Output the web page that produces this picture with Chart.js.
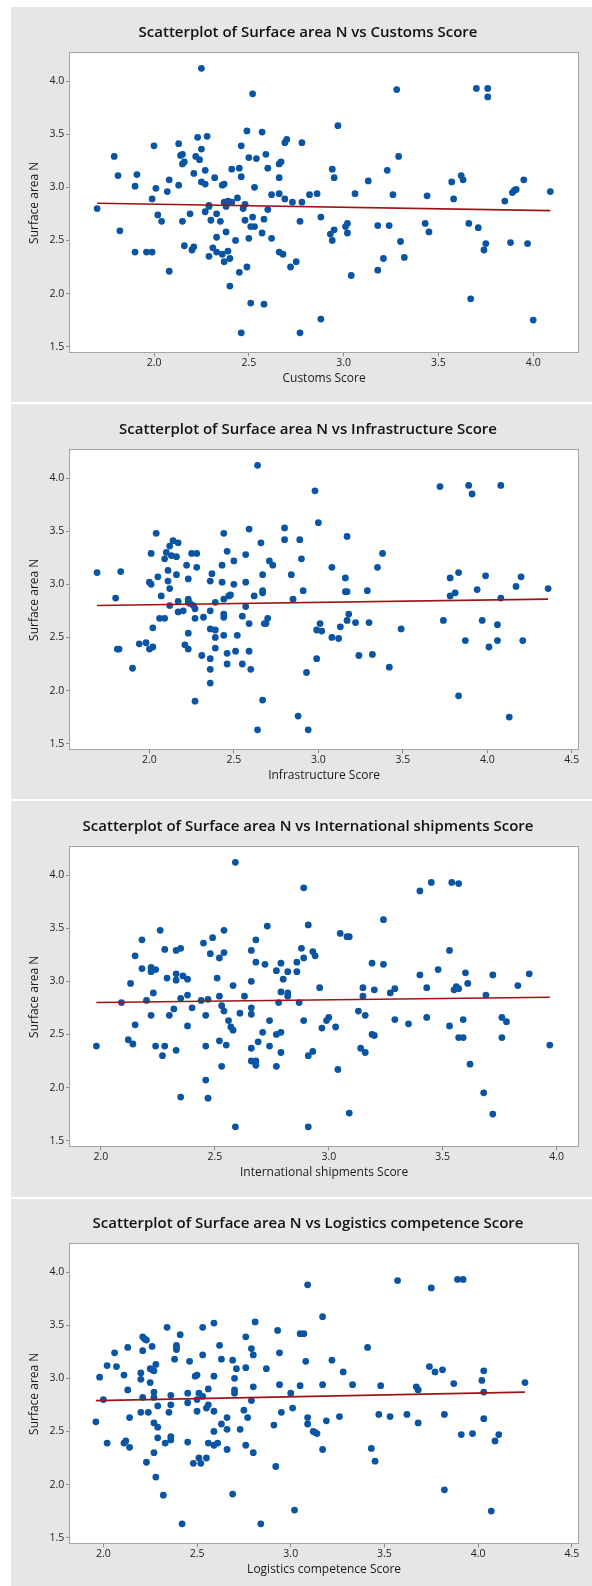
<!DOCTYPE html>
<html><head><meta charset="utf-8">
<script src="https://cdn.jsdelivr.net/npm/chart.js@4.4.1/dist/chart.umd.min.js"></script>
<style>
html,body{margin:0;padding:0;background:#fff;}
body{position:relative;width:592px;height:1586px;overflow:hidden;}
.panel{position:absolute;left:11px;width:581px;background:#e6e6e6;}
canvas{position:absolute;left:0;}
</style></head><body>
<div class="panel" style="top:7px;height:395px"></div>
<div class="panel" style="top:404px;height:395px"></div>
<div class="panel" style="top:801px;height:396px"></div>
<div class="panel" style="top:1199px;height:387px"></div>
<canvas id="c0" width="592" height="392" style="top:0px"></canvas>
<canvas id="c1" width="592" height="392" style="top:397px"></canvas>
<canvas id="c2" width="592" height="392" style="top:794px"></canvas>
<canvas id="c3" width="592" height="392" style="top:1191px"></canvas>
<script>
const yTitle = 'Surface area N';
const chartTitles = ['Scatterplot of Surface area N vs Customs Score','Scatterplot of Surface area N vs Infrastructure Score','Scatterplot of Surface area N vs International shipments Score','Scatterplot of Surface area N vs Logistics competence Score'];
const xTitles = ['Customs Score','Infrastructure Score','International shipments Score','Logistics competence Score'];
const yTicks = [1.5,2.0,2.5,3.0,3.5,4.0];
const yRange = [1.447,4.261];

const customsX = [1.70,1.79,1.81,1.82,1.90,1.91,1.90,1.96,1.99,1.99,2.00,2.01,2.02,2.04,2.07,2.08,2.08,2.13,2.13,2.14,2.15,2.15,2.16,2.15,2.16,2.19,2.20,2.21,2.21,2.22,2.23,2.24,2.25,2.25,2.25,2.27,2.27,2.27,2.28,2.29,2.29,2.29,2.30,2.31,2.32,2.33,2.33,2.33,2.35,2.36,2.36,2.37,2.37,2.37,2.38,2.38,2.39,2.39,2.40,2.40,2.41,2.41,2.43,2.44,2.45,2.45,2.46,2.46,2.46,2.47,2.48,2.48,2.49,2.49,2.50,2.50,2.51,2.51,2.52,2.52,2.53,2.53,2.54,2.57,2.57,2.58,2.58,2.59,2.60,2.60,2.62,2.62,2.66,2.67,2.66,2.66,2.66,2.68,2.69,2.70,2.69,2.72,2.73,2.75,2.77,2.77,2.78,2.78,2.82,2.86,2.88,2.88,2.94,2.95,2.97,3.06,3.13,2.93,2.94,2.95,3.01,3.02,3.02,3.04,3.18,3.18,3.21,3.23,3.24,3.26,3.28,3.29,3.30,3.32,3.43,3.44,3.45,3.57,3.58,3.62,3.63,3.66,3.67,3.70,3.71,3.74,3.75,3.76,3.76,3.85,3.88,3.89,3.90,3.91,3.95,3.97,4.00,4.09];
const customsY = [2.80,3.29,3.11,2.59,3.01,3.12,2.39,2.39,2.39,2.89,3.39,2.99,2.74,2.68,2.96,3.07,2.21,3.41,3.02,3.30,3.31,3.22,3.24,2.68,2.45,2.75,2.41,2.44,3.13,3.29,3.47,3.26,3.36,4.12,3.05,3.03,3.16,2.77,3.48,2.83,2.82,2.35,2.69,2.43,3.09,2.75,2.53,2.39,2.68,3.02,2.37,3.03,2.86,2.30,2.58,2.82,2.87,2.40,2.33,2.07,3.17,2.86,2.50,2.90,3.18,2.20,3.10,3.39,1.63,2.80,2.84,2.69,3.53,2.25,3.28,2.52,2.63,1.91,3.88,2.72,3.00,2.63,3.27,3.52,2.57,2.70,1.90,3.31,3.18,2.79,2.93,2.52,3.22,3.24,3.09,2.94,2.39,2.37,3.42,3.45,2.89,2.25,2.86,2.30,2.68,1.63,3.42,2.86,2.93,2.94,2.72,1.76,3.17,3.09,3.58,2.94,3.06,2.56,2.50,2.60,2.63,2.66,2.57,2.17,2.64,2.22,2.33,3.16,2.64,2.93,3.92,3.29,2.49,2.34,2.66,2.92,2.58,3.05,2.89,3.11,3.07,2.66,1.95,3.93,2.62,2.41,2.47,3.93,3.85,2.87,2.48,2.95,2.97,2.98,3.07,2.47,1.75,2.96];
const customsFitX = [1.70,4.09];
const customsFitY = [2.85,2.78];
const customsRange = [1.558,4.236];
const customsTicks = [2.0,2.5,3.0,3.5,4.0];

const infraX = [1.69,1.80,1.81,1.82,1.83,1.90,1.94,1.98,2.00,2.02,2.02,2.00,2.01,2.01,2.04,2.05,2.07,2.06,2.09,2.09,2.10,2.11,2.11,2.12,2.12,2.12,2.13,2.14,2.16,2.16,2.17,2.17,2.17,2.20,2.21,2.22,2.23,2.23,2.23,2.23,2.23,2.24,2.25,2.26,2.27,2.27,2.27,2.28,2.28,2.31,2.32,2.36,2.36,2.36,2.36,2.36,2.36,2.37,2.39,2.39,2.39,2.39,2.43,2.43,2.44,2.44,2.44,2.44,2.44,2.46,2.46,2.46,2.47,2.48,2.50,2.50,2.51,2.52,2.55,2.55,2.57,2.57,2.57,2.59,2.59,2.59,2.60,2.62,2.64,2.64,2.66,2.67,2.67,2.67,2.67,2.68,2.69,2.70,2.71,2.73,2.80,2.80,2.84,2.85,2.88,2.89,2.90,2.91,2.93,2.94,2.98,2.99,2.99,3.00,3.01,3.02,3.08,3.16,3.16,3.17,3.17,3.08,3.12,3.13,3.17,3.18,3.22,3.24,3.29,3.30,3.32,3.35,3.38,3.42,3.49,3.72,3.74,3.78,3.78,3.81,3.83,3.83,3.87,3.89,3.91,3.94,3.97,3.99,4.01,4.06,4.06,4.08,4.08,4.13,4.17,4.20,4.21,4.36];
const infraY = [3.11,2.87,2.39,2.39,3.12,2.21,2.44,2.45,2.39,2.41,2.59,3.02,3.00,3.29,3.48,3.07,2.89,2.68,2.68,3.24,3.30,3.13,3.03,3.36,2.96,2.80,3.27,3.41,3.26,3.09,3.39,2.84,2.74,2.75,2.43,3.18,3.05,2.86,2.83,2.54,2.39,2.82,3.29,2.80,2.77,2.68,1.90,3.29,3.16,2.33,2.69,3.03,2.75,2.58,2.30,2.20,2.07,3.10,2.83,2.57,2.50,2.40,3.18,3.02,2.72,2.86,2.69,2.52,3.48,3.31,2.25,2.35,2.89,2.90,3.22,3.00,2.37,2.52,2.25,2.70,2.79,3.02,3.28,3.52,2.63,2.37,2.20,2.89,4.12,1.63,3.39,2.94,2.92,3.09,1.91,2.63,2.63,2.68,3.22,3.18,3.53,3.42,3.09,2.86,1.76,3.42,3.24,2.94,2.17,1.63,3.88,2.57,2.30,3.58,2.63,2.56,3.16,3.06,2.93,2.93,3.45,2.50,2.49,2.60,2.66,2.72,2.64,2.33,2.94,2.64,2.34,3.16,3.29,2.22,2.58,3.92,2.66,3.06,2.89,2.92,3.11,1.95,2.47,3.93,3.85,2.95,2.66,3.08,2.41,2.62,2.47,2.87,3.93,1.75,2.98,3.07,2.47,2.96];
const infraFitX = [1.69,4.36];
const infraFitY = [2.80,2.86];
const infraRange = [1.531,4.537];
const infraTicks = [2.0,2.5,3.0,3.5,4.0,4.5];

const shipX = [1.98,2.09,2.12,2.13,2.14,2.15,2.15,2.18,2.18,2.20,2.22,2.22,2.22,2.23,2.24,2.24,2.26,2.27,2.28,2.28,2.29,2.30,2.32,2.33,2.33,2.33,2.33,2.35,2.35,2.35,2.36,2.38,2.38,2.38,2.40,2.44,2.45,2.46,2.46,2.46,2.47,2.47,2.48,2.49,2.51,2.52,2.52,2.52,2.53,2.53,2.54,2.54,2.54,2.55,2.56,2.57,2.58,2.58,2.59,2.59,2.61,2.63,2.66,2.66,2.66,2.66,2.66,2.66,2.68,2.68,2.68,2.68,2.69,2.71,2.72,2.73,2.74,2.74,2.77,2.77,2.77,2.78,2.79,2.79,2.79,2.79,2.80,2.82,2.82,2.82,2.86,2.86,2.87,2.88,2.89,2.89,2.89,2.91,2.91,2.91,2.93,2.93,2.94,2.96,2.97,2.99,3.00,3.03,3.04,3.05,3.08,3.09,3.09,3.13,3.14,3.15,3.15,3.16,3.16,3.19,3.19,3.20,3.20,3.24,3.24,3.27,3.29,3.29,3.35,3.40,3.40,3.43,3.43,3.45,3.48,3.53,3.53,3.54,3.55,3.56,3.57,3.57,3.57,3.59,3.59,3.60,3.61,3.62,3.68,3.69,3.72,3.72,3.76,3.76,3.78,3.83,3.88,3.97];
const shipY = [2.39,2.80,2.45,2.98,2.41,3.24,2.59,3.39,3.12,2.82,2.68,3.13,3.09,2.89,3.11,2.39,3.48,2.30,3.30,2.39,3.03,2.68,2.74,3.29,3.07,3.01,2.35,3.31,2.84,1.91,3.05,3.02,2.87,2.58,2.75,2.82,3.36,2.68,2.39,2.07,2.83,1.90,3.26,3.41,3.03,3.22,2.86,2.44,2.77,2.20,2.72,3.48,3.27,2.40,2.63,2.57,2.54,2.96,4.12,1.63,2.70,2.86,3.29,3.00,2.75,2.69,2.37,2.25,3.39,3.18,2.25,2.21,2.43,2.52,3.16,3.52,2.63,2.39,3.10,2.50,2.20,2.80,3.17,2.90,2.52,2.33,3.02,3.09,2.89,2.86,3.18,3.09,2.80,3.31,3.88,3.22,2.63,3.53,2.30,1.63,3.28,2.34,3.24,2.94,2.56,2.63,2.66,2.57,2.17,3.45,3.42,3.42,1.76,2.72,2.37,2.94,2.86,2.68,2.33,3.17,2.50,2.49,2.92,3.58,3.16,2.89,2.93,2.64,2.60,3.85,3.06,2.94,2.66,3.93,3.11,3.29,2.58,3.93,2.92,2.95,3.92,2.93,2.47,2.64,2.47,3.08,2.98,2.22,1.95,2.87,3.06,1.75,2.66,2.47,2.62,2.96,3.07,2.40];
const shipFitX = [1.98,3.97];
const shipFitY = [2.80,2.85];
const shipRange = [1.865,4.094];
const shipTicks = [2.0,2.5,3.0,3.5,4.0];

const logX = [1.96,1.98,2.00,2.02,2.02,2.06,2.07,2.11,2.11,2.12,2.13,2.13,2.14,2.14,2.20,2.20,2.20,2.21,2.21,2.21,2.22,2.23,2.23,2.24,2.25,2.25,2.26,2.26,2.27,2.27,2.27,2.27,2.27,2.28,2.28,2.29,2.29,2.29,2.32,2.33,2.34,2.35,2.36,2.36,2.36,2.36,2.38,2.39,2.39,2.39,2.41,2.42,2.45,2.45,2.45,2.46,2.48,2.49,2.50,2.50,2.50,2.51,2.51,2.52,2.53,2.53,2.53,2.55,2.55,2.56,2.56,2.56,2.59,2.59,2.59,2.59,2.59,2.61,2.62,2.63,2.63,2.66,2.66,2.66,2.69,2.69,2.70,2.70,2.70,2.71,2.73,2.75,2.76,2.76,2.76,2.77,2.79,2.79,2.80,2.80,2.80,2.81,2.84,2.87,2.91,2.92,2.93,2.94,2.94,2.95,3.00,3.01,3.02,3.05,3.07,3.05,3.08,3.09,3.09,3.09,3.12,3.13,3.14,3.17,3.17,3.17,3.19,3.22,3.26,3.28,3.33,3.41,3.43,3.45,3.47,3.48,3.53,3.57,3.62,3.67,3.68,3.68,3.74,3.75,3.77,3.81,3.82,3.82,3.87,3.89,3.91,3.92,3.97,4.02,4.03,4.03,4.03,4.07,4.09,4.11,4.25];
const logY = [2.59,3.01,2.80,3.12,2.39,3.24,3.11,3.03,2.39,2.41,3.29,2.89,2.63,2.35,3.05,2.99,2.68,3.39,3.26,2.82,3.37,3.36,2.21,2.68,3.09,2.96,3.08,3.30,3.07,2.87,2.82,2.58,2.30,3.13,2.07,2.74,2.54,2.44,1.90,2.39,3.48,2.68,2.84,2.75,2.45,2.42,3.18,3.29,3.31,3.27,3.41,1.63,2.86,2.77,2.40,3.16,2.20,3.02,3.03,2.80,2.69,2.86,2.25,2.20,3.48,2.83,3.22,2.72,2.25,2.75,2.90,2.39,3.02,2.50,3.52,2.69,2.37,2.39,3.31,3.18,2.57,2.63,2.52,2.33,3.17,1.91,3.00,2.89,2.86,3.09,2.52,2.70,3.39,3.10,2.37,2.63,3.28,2.79,3.22,2.92,2.30,3.53,1.63,3.09,2.56,2.17,3.45,3.24,2.94,2.68,2.86,2.72,1.76,3.42,3.42,2.93,3.16,3.88,2.63,2.57,2.50,2.49,2.48,2.94,2.33,3.58,2.60,3.17,2.64,3.06,2.94,3.29,2.34,2.22,2.66,2.93,2.64,3.92,2.66,2.92,2.89,2.58,3.11,3.85,3.06,3.08,2.66,1.95,2.95,3.93,2.47,3.93,2.48,2.98,3.07,2.87,2.62,1.75,2.41,2.47,2.96];
const logFitX = [1.96,4.25];
const logFitY = [2.79,2.87];
const logRange = [1.823,4.533];
const logTicks = [2.0,2.5,3.0,3.5,4.0,4.5];

const FONT = 'Open Sans';
const plotFrame = {
  id: 'plotFrame',
  beforeDraw(chart) {
    const {ctx, chartArea: a} = chart;
    ctx.save(); ctx.fillStyle = '#ffffff';
    ctx.fillRect(a.left, a.top, a.right - a.left, a.bottom - a.top);
    ctx.restore();
  },
  afterDraw(chart) {
    const {ctx, chartArea: a} = chart;
    ctx.save(); ctx.strokeStyle = '#a6a6a6'; ctx.lineWidth = 1;
    const l = Math.round(a.left) - 0.5, t = Math.round(a.top) - 0.5;
    const r = Math.round(a.right) + 0.5, b = Math.round(a.bottom) + 0.5;
    ctx.strokeRect(l, t, r - l, b - t);
    ctx.restore();
  }
};

function makeChart(id, title, xTitle, xs, ys, fx, fy, xr, xt) {
  const pts = xs.map((x, i) => ({x: x, y: ys[i]}));
  const fit = fx.map((x, i) => ({x: x, y: fy[i]}));
  new Chart(document.getElementById(id), {
    type: 'scatter',
    data: {datasets: [
      {type: 'line', data: fit, borderColor: '#9c1515', borderWidth: 1.6, pointRadius: 0, fill: false, tension: 0},
      {data: pts, backgroundColor: '#0a55a3', borderColor: '#0a55a3', borderWidth: 0, pointRadius: 3.4, pointHoverRadius: 3.4}
    ]},
    options: {
      responsive: false, animation: false, events: [],
      layout: {padding: {left: 38, right: 14, top: 0, bottom: 0}},
      plugins: {
        legend: {display: false}, tooltip: {enabled: false},
        title: {display: true, text: title, color: '#111', font: {family: FONT, size: 15, weight: '600', lineHeight: 1.2}, padding: {top: 24, bottom: 11.3}}
      },
      scales: {
        x: {
          type: 'linear', position: 'bottom', min: xr[0], max: xr[1],
          afterBuildTicks: s => { s.ticks = xt.map(v => ({value: v})); },
          afterFit: s => { s.height = 39.7; },
          grid: {drawOnChartArea: false, drawTicks: true, tickLength: 4, color: '#8c8c8c'},
          border: {display: false},
          ticks: {color: '#222', font: {family: FONT, size: 10.5}, padding: 0, maxRotation: 0, autoSkip: false, callback: v => Number(v).toFixed(1)},
          title: {display: true, text: xTitle, color: '#1a1a1a', font: {family: FONT, size: 12}, padding: {top: 0, bottom: 5.8}}
        },
        y: {
          type: 'linear', position: 'left', min: yRange[0], max: yRange[1],
          afterBuildTicks: s => { s.ticks = yTicks.map(v => ({value: v})); },
          afterFit: s => { s.width = 32.2; },
          grid: {drawOnChartArea: false, drawTicks: true, tickLength: 4, color: '#8c8c8c'},
          border: {display: false},
          ticks: {color: '#222', font: {family: FONT, size: 10.5}, padding: 2, autoSkip: false, callback: v => Number(v).toFixed(1)},
          title: {display: true, text: yTitle, color: '#1a1a1a', font: {family: FONT, size: 12}, padding: {top: -10.2, bottom: 0}}
        }
      }
    },
    plugins: [plotFrame]
  });
}

makeChart('c0', chartTitles[0], xTitles[0], customsX, customsY, customsFitX, customsFitY, customsRange, customsTicks);
makeChart('c1', chartTitles[1], xTitles[1], infraX, infraY, infraFitX, infraFitY, infraRange, infraTicks);
makeChart('c2', chartTitles[2], xTitles[2], shipX, shipY, shipFitX, shipFitY, shipRange, shipTicks);
makeChart('c3', chartTitles[3], xTitles[3], logX, logY, logFitX, logFitY, logRange, logTicks);
</script>
</body></html>
